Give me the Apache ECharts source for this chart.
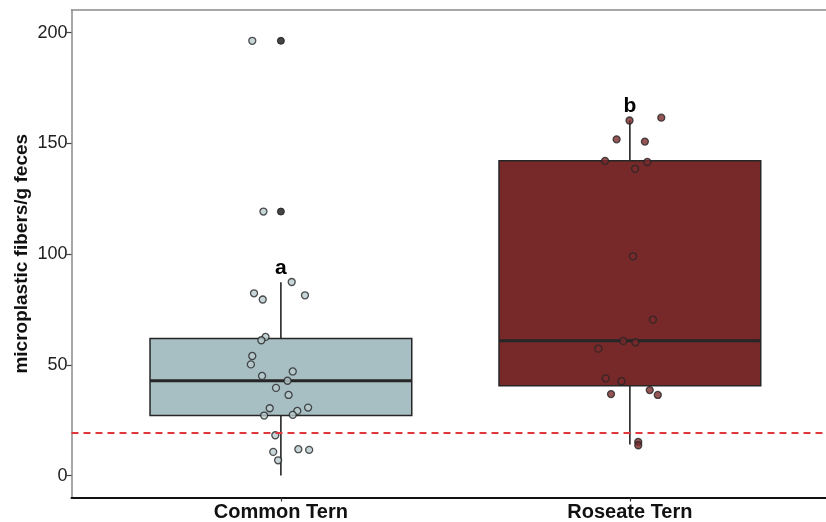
<!DOCTYPE html>
<html>
<head>
<meta charset="utf-8">
<script src="https://cdn.jsdelivr.net/npm/echarts@6/dist/echarts.min.js"></script>
<style>
  html, body { margin: 0; padding: 0; background: #fff; }
  #chart { width: 826px; height: 522px; }
</style>
</head>
<body>
<div id="chart"></div>
<script>
// Groups on the x axis
const categories = ['Common Tern', 'Roseate Tern'];

// Box summaries: [lower whisker, Q1, median, Q3, upper whisker]
const commonStats  = [0.0, 27.1, 42.8, 61.9, 87.3];
const roseateStats = [14.0, 40.5, 60.9, 142.1, 160.3];

// Individual samples (fibers per g feces) and their horizontal jitter (category units)
const commonValues = [87.4, 82.3, 79.5, 81.4, 62.6, 61.1, 54.0, 50.2, 45.0, 47.0, 42.8, 39.6, 36.4,
                      30.4, 30.7, 29.2, 27.4, 27.1, 18.2, 10.7, 11.9, 11.6, 6.9, 196.3, 119.2];
const commonJitter = [0.031, -0.077, -0.052, 0.069, -0.044, -0.056, -0.082, -0.086, -0.054, 0.034, 0.019, -0.014, 0.022,
                      -0.032, 0.078, 0.047, 0.034, -0.048, -0.016, -0.022, 0.050, 0.081, -0.008, -0.082, -0.050];

const roseateValues = [160.3, 161.6, 151.8, 150.8, 142.1, 141.6, 138.5, 99.0, 70.4, 60.8, 60.2, 57.3,
                       43.9, 42.6, 36.8, 38.6, 36.4, 15.2, 13.7];
const roseateJitter = [-0.001, 0.090, -0.038, 0.043, -0.071, 0.050, 0.015, 0.009, 0.066, -0.019, 0.016, -0.090,
                       -0.069, -0.024, -0.054, 0.057, 0.080, 0.024, 0.024];

// Boxplot outliers (Common Tern)
const commonOutliers = [196.3, 119.2];

// Reference level (dashed line)
const threshold = 19.3;

// Significance letters above each group
const letters = ['a', 'b'];

// Y tick labels
const yTicks = [0, 50, 100, 150, 200];

// ---- styling ----
const FONT = '"Liberation Sans", Arial, sans-serif';
const BOX_WIDTH = 0.75;
const BOX_FILLS = ['#A7BEC3', '#77292A'];
const POINT_FILLS = ['#B9CCD0', '#7A2A2C'];
const EDGE = '#262626';
const FRAME = '#8a8a8a';

const statsList = [commonStats, roseateStats];
const boxData = categories.map((c, i) => [i + 1].concat(statsList[i]));

function renderBox(params, api) {
  const x = api.value(0);
  const lo = api.coord([x, api.value(1)]);
  const q1 = api.coord([x, api.value(2)]);
  const med = api.coord([x, api.value(3)]);
  const q3 = api.coord([x, api.value(4)]);
  const hi = api.coord([x, api.value(5)]);
  const half = api.size([BOX_WIDTH, 0])[0] / 2;
  const fill = BOX_FILLS[params.dataIndex];
  return {
    type: 'group',
    children: [
      { type: 'line', shape: { x1: lo[0], y1: lo[1], x2: q1[0], y2: q1[1] },
        style: { stroke: EDGE, lineWidth: 1.6 } },
      { type: 'line', shape: { x1: q3[0], y1: q3[1], x2: hi[0], y2: hi[1] },
        style: { stroke: EDGE, lineWidth: 1.6 } },
      { type: 'rect', shape: { x: q1[0] - half, y: q3[1], width: 2 * half, height: q1[1] - q3[1] },
        style: { fill: fill, stroke: EDGE, lineWidth: 1.5 } },
      { type: 'line', shape: { x1: med[0] - half, y1: med[1], x2: med[0] + half, y2: med[1] },
        style: { stroke: EDGE, lineWidth: 3 } }
    ]
  };
}

// Letter placed just above the upper whisker of its group
function renderLetter(params, api) {
  const p = api.coord([api.value(0), api.value(1)]);
  return {
    type: 'text',
    x: p[0], y: p[1] - 4,
    style: {
      text: letters[params.dataIndex],
      fill: '#000', font: 'bold 21px ' + FONT,
      align: 'center', verticalAlign: 'bottom'
    }
  };
}

const pointStyle = (i) => ({ color: POINT_FILLS[i], borderColor: EDGE, borderWidth: 1.3 });

const chart = echarts.init(document.getElementById('chart'), null, { renderer: 'canvas' });
chart.setOption({
  animation: false,
  backgroundColor: '#ffffff',
  textStyle: { fontFamily: FONT },
  grid: { left: 71.5, top: 10, right: 0, height: 487.5, show: false, outerBoundsMode: 'none', containLabel: false },
  xAxis: [
    {
      type: 'value', min: 0.4, max: 2.562, position: 'bottom',
      splitLine: { show: false },
      axisLine: { show: true, onZero: false, lineStyle: { color: '#111', width: 2 } },
      axisTick: { show: true, customValues: [1, 2], length: 4, lineStyle: { color: '#333', width: 1.2 } },
      axisLabel: {
        customValues: [1, 2],
        formatter: (v) => categories[Math.round(v) - 1],
        fontFamily: FONT, fontWeight: 'bold', fontSize: 20, color: '#111', margin: 5
      }
    },
    {
      // top frame line
      type: 'value', min: 0.4, max: 2.562, position: 'top',
      splitLine: { show: false },
      axisLine: { show: true, onZero: false, lineStyle: { color: FRAME, width: 1.5 } },
      axisTick: { show: false },
      axisLabel: { show: false }
    }
  ],
  yAxis: {
    type: 'value', min: -9.9, max: 210.2,
    name: 'microplastic fibers/g feces',
    nameLocation: 'middle', nameGap: 40, nameMoveOverlap: false,
    nameTextStyle: { fontFamily: FONT, fontWeight: 'bold', fontSize: 19, color: '#111' },
    splitLine: { show: false },
    axisLine: { show: true, lineStyle: { color: FRAME, width: 1.5 } },
    axisTick: { show: true, customValues: yTicks, length: 5, lineStyle: { color: '#444', width: 1.2 } },
    axisLabel: { customValues: yTicks, fontFamily: FONT, fontSize: 18, color: '#222', margin: 4 }
  },
  series: [
    {
      type: 'custom',
      renderItem: renderBox,
      data: boxData,
      encode: { x: 0, y: [1, 2, 3, 4, 5] },
      z: 2,
      markLine: {
        silent: true, symbol: 'none', label: { show: false },
        lineStyle: { color: '#E0383E', width: 1.8, type: [7, 5] },
        data: [{ yAxis: threshold }]
      }
    },
    {
      type: 'scatter',
      data: commonOutliers.map(v => [1, v]),
      symbol: 'circle', symbolSize: 7,
      itemStyle: { color: '#151515', borderColor: '#151515', borderWidth: 1 },
      z: 3
    },
    {
      type: 'scatter',
      data: commonValues.map((v, i) => [1 + commonJitter[i], v]),
      symbol: 'circle', symbolSize: 7,
      itemStyle: pointStyle(0),
      z: 4
    },
    {
      type: 'scatter',
      data: roseateValues.map((v, i) => [2 + roseateJitter[i], v]),
      symbol: 'circle', symbolSize: 7,
      itemStyle: pointStyle(1),
      z: 4
    },
    {
      type: 'custom',
      renderItem: renderLetter,
      data: statsList.map((s, i) => [i + 1, s[4]]),
      encode: { x: 0, y: 1 },
      z: 5
    }
  ]
});
</script>
</body>
</html>
